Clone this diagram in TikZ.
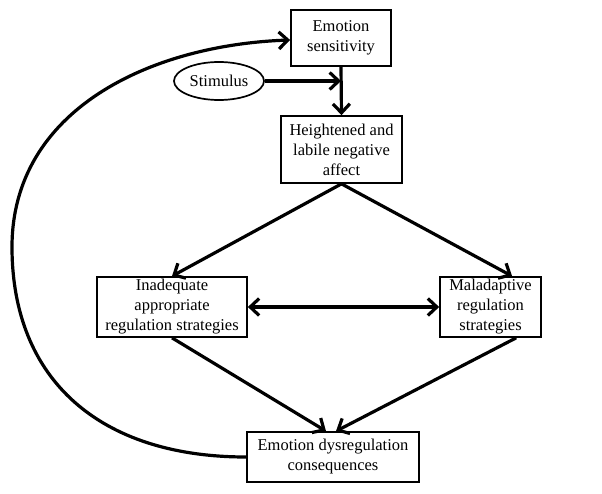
\documentclass[tikz,border=0pt]{standalone}
\usepackage{fontspec}
\setmainfont{Liberation Serif}
\usetikzlibrary{arrows.meta,shapes.geometric,calc}
\begin{document}
\begin{tikzpicture}[x=1pt,y=-1pt,
  box/.style={draw,line width=1.7pt,align=center,inner sep=0pt,
    font=\fontsize{16.5}{20}\selectfont},
  conn/.style={line width=3.2pt,-{Straight Barb[length=9pt,width=17pt,line width=3.2pt]}}]
\useasboundingbox (0,0) rectangle (602,494);
\node[box,minimum width=100pt,minimum height=56pt] (es) at (341,38) {Emotion\\sensitivity};
\node[box,ellipse,minimum width=90pt,minimum height=38pt] (st) at (219,81) {Stimulus};
\node[box,minimum width=121pt,minimum height=67pt] (hn) at (341.5,149.5) {Heightened and\\labile negative\\affect};
\node[box,minimum width=150pt,minimum height=60pt] (in) at (172,307) {Inadequate\\appropriate\\regulation strategies};
\node[box,minimum width=101pt,minimum height=60pt] (ma) at (490.5,307) {Maladaptive\\regulation\\strategies};
\node[box,minimum width=172pt,minimum height=50pt] (ed) at (333,457) {Emotion dysregulation\\consequences};
\coordinate (j) at (es.south |- st.east);
\draw[conn] (es.south) -- (hn.north);
\draw[conn] (st.east) -- (j);
\draw[conn] (hn.south) -- (in.north);
\draw[conn] (hn.south) -- ($(ma.north east)!0.29!(ma.north west)$);
\draw[conn,{Straight Barb[length=9pt,width=17pt,line width=3.2pt]}-{Straight Barb[length=9pt,width=17pt,line width=3.2pt]}] (in.east) -- (ma.west);
\draw[conn] (in.south) -- ($(ed.north)+(-7,0)$);
\draw[conn] ($(ma.south east)!0.25!(ma.south west)$) -- ($(ed.north)+(3,0)$);
\draw[conn] (ed.west) .. controls (100,457) and (12,380) .. (12,247)
  .. controls (12,110) and (150,45) .. ($(es.west)+(0,2)$);
\end{tikzpicture}
\end{document}
